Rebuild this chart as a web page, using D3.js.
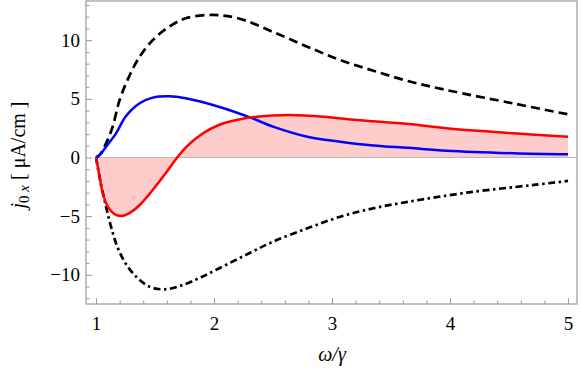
<!DOCTYPE html>
<html>
<head>
<meta charset="utf-8">
<script src="https://cdn.jsdelivr.net/npm/d3@7"></script>
<style>
  body { margin: 0; background: #fff; }
  svg text { font-family: "Liberation Serif", "Times New Roman", Times, "DejaVu Serif", serif; }
</style>
</head>
<body>
<svg id="chart" width="581" height="382"></svg>
<script>
// values
const xTicks = [1, 2, 3, 4, 5]
const yTicks = [-10, -5, 0, 5, 10]

const dashedX = [1, 1.03, 1.085, 1.14, 1.2, 1.28, 1.37, 1.48, 1.62, 1.76, 1.99, 2.21, 2.5, 2.79, 3.07, 3.35, 3.65, 3.97, 4.54, 5]
const dashedY = [0, 0.2, 1.2, 2.6, 4.9, 6.9, 8.6, 10.0, 11.15, 11.87, 12.15, 11.85, 10.7, 9.45, 8.3, 7.4, 6.5, 5.75, 4.6, 3.68]

const blueX = [1, 1.04, 1.085, 1.17, 1.25, 1.37, 1.48, 1.62, 1.76, 2.04, 2.31, 2.5, 2.79, 3.07, 3.35, 3.65, 3.97, 4.54, 5]
const blueY = [0, 0.3, 0.92, 2.06, 3.48, 4.62, 5.1, 5.22, 5.05, 4.33, 3.4, 2.63, 1.77, 1.35, 1.03, 0.82, 0.58, 0.36, 0.27]

const redX = [1, 1.03, 1.057, 1.1, 1.155, 1.21, 1.28, 1.37, 1.48, 1.59, 1.68, 1.77, 1.9, 2.04, 2.19, 2.36, 2.64, 2.93, 3.21, 3.65, 3.97, 4.54, 5]
const redY = [0, -1.63, -3.05, -4.19, -4.82, -4.99, -4.76, -4.05, -2.77, -1.35, -0.1, 0.95, 2.02, 2.77, 3.2, 3.48, 3.62, 3.48, 3.2, 2.86, 2.49, 2.06, 1.77]

const dotDashX = [1, 1.04, 1.085, 1.127, 1.18, 1.25, 1.34, 1.45, 1.58, 1.735, 1.9, 2.1, 2.31, 2.5, 2.79, 3.07, 3.35, 3.65, 4.14, 4.71, 5]
const dotDashY = [0, -2.2, -4.19, -5.9, -7.6, -9.02, -10.16, -11.0, -11.24, -10.87, -10.16, -9.16, -8.1, -7.18, -6.04, -5.05, -4.33, -3.77, -3.0, -2.34, -2.0]

const svg = d3.select("#chart")
const mLeft = 86, mRight = 577, mTop = 1, mBottom = 304

const x = d3.scaleLinear().domain([0.915, 5.076]).range([mLeft, mRight])
const y = d3.scaleLinear().domain([-12.49, 13.34]).range([mBottom, mTop])

const zip = (xs, ys) => xs.map((v, i) => [v, ys[i]])

const line = d3.line()
  .x(d => x(d[0]))
  .y(d => y(d[1]))
  .curve(d3.curveCatmullRom.alpha(0.5))

const area = d3.area()
  .x(d => x(d[0]))
  .y0(y(0))
  .y1(d => y(d[1]))
  .curve(d3.curveCatmullRom.alpha(0.5))

// fill of red curve to axis
svg.append("path")
  .attr("d", area(zip(redX, redY)))
  .attr("fill", "#ffcccc")

// zero axis
svg.append("line")
  .attr("x1", x(1)).attr("x2", mRight)
  .attr("y1", y(0)).attr("y2", y(0))
  .attr("stroke", "#b8b8b8")
  .attr("stroke-width", 1.2)

svg.append("path")
  .attr("d", line(zip(dashedX, dashedY)))
  .attr("fill", "none")
  .attr("stroke", "#000")
  .attr("stroke-width", 2.7)
  .attr("stroke-dasharray", "9,5")

svg.append("path")
  .attr("d", line(zip(dotDashX, dotDashY)))
  .attr("fill", "none")
  .attr("stroke", "#000")
  .attr("stroke-width", 2.7)
  .attr("stroke-dasharray", "7,3.5,2.5,3.5")

svg.append("path")
  .attr("d", line(zip(blueX, blueY)))
  .attr("fill", "none")
  .attr("stroke", "#0000ff")
  .attr("stroke-width", 2.5)

svg.append("path")
  .attr("d", line(zip(redX, redY)))
  .attr("fill", "none")
  .attr("stroke", "#ff0000")
  .attr("stroke-width", 2.5)

// frame
svg.append("rect")
  .attr("x", mLeft).attr("y", mTop)
  .attr("width", mRight - mLeft).attr("height", mBottom - mTop)
  .attr("fill", "none")
  .attr("stroke", "#999")
  .attr("stroke-width", 1.2)

// axes with inward ticks
const xMinor = d3.range(1, 5.01, 0.2).filter(v => Math.abs(v - Math.round(v)) > 0.01)
const yMinor = d3.range(-12, 14).filter(v => v % 5 !== 0)

const xAxis = svg.append("g").attr("transform", `translate(0, ${mBottom})`)
xAxis.call(d3.axisBottom(x).tickValues(xTicks).tickSize(-6).tickPadding(13).tickFormat(d3.format("d")))
const xAxisMinor = svg.append("g").attr("transform", `translate(0, ${mBottom})`)
xAxisMinor.call(d3.axisBottom(x).tickValues(xMinor).tickSize(-3.5).tickFormat(""))

const yAxis = svg.append("g").attr("transform", `translate(${mLeft}, 0)`)
yAxis.call(d3.axisLeft(y).tickValues(yTicks).tickSize(-6).tickPadding(6)
  .tickFormat(d => d < 0 ? "\u2212" + Math.abs(d) : d))
const yAxisMinor = svg.append("g").attr("transform", `translate(${mLeft}, 0)`)
yAxisMinor.call(d3.axisLeft(y).tickValues(yMinor).tickSize(-3.5).tickFormat(""))

svg.selectAll(".domain").remove()
svg.selectAll("g").attr("font-family", null)
svg.selectAll(".tick line").attr("stroke", "#999")
svg.selectAll(".tick text")
  .attr("fill", "#000")
  .style("font-size", "19px")

// axis labels
svg.append("text")
  .attr("x", 332)
  .attr("y", 361)
  .attr("text-anchor", "middle")
  .style("font-size", "20px")
  .style("font-style", "italic")
  .text("\u03c9/\u03b3")

const yl = svg.append("text")
  .attr("transform", `translate(25, 155) rotate(-90)`)
  .attr("text-anchor", "middle")
  .style("font-size", "20px")
yl.append("tspan").style("font-style", "italic").text("j")
yl.append("tspan").attr("dy", 4).style("font-size", "15px").text("0")
yl.append("tspan").style("font-size", "15px").style("font-style", "italic").text(" x")
yl.append("tspan").attr("dy", -4).text(" [ \u03bcA/cm ]")
</script>
</body>
</html>
